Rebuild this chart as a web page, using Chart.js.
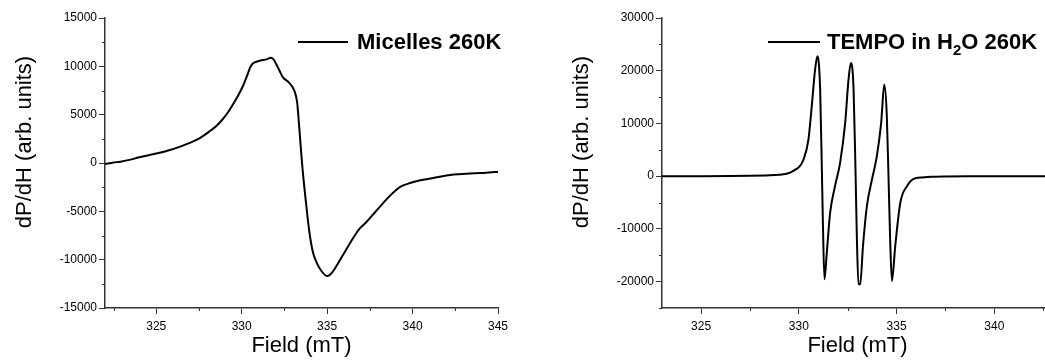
<!DOCTYPE html>
<html lang="en">
<head>
    <meta charset="UTF-8">
    <title>EPR spectra - Micelles and TEMPO</title>
    <script src="https://cdn.jsdelivr.net/npm/chart.js"></script>
    <style>
        html, body { margin: 0; padding: 0; background: #fff; overflow: hidden; }
        body { width: 1045px; height: 364px; position: relative; font-family: "Liberation Sans", Arial, sans-serif; }
        canvas { position: absolute; top: 0; }
        #micellesChart { left: 0; }
        #tempoChart { left: 525px; }
        .legend { position: absolute; top: 29px; height: 26px; font-weight: bold; font-size: 22px; line-height: 26px; color: #000; white-space: nowrap; }
        .legend .swatch { position: absolute; top: 12px; height: 2px; background: #000; }
        .legend sub { font-size: 15px; vertical-align: -6px; line-height: 0; }
    </style>
</head>
<body>
    <canvas id="micellesChart" width="522" height="364"></canvas>
    <canvas id="tempoChart" width="538" height="364"></canvas>

    <div class="legend" style="left:298px">
        <span class="swatch" style="left:0;width:50px"></span>
        <span style="margin-left:59px">Micelles 260K</span>
    </div>
    <div class="legend" style="left:768px">
        <span class="swatch" style="left:0;width:52px"></span>
        <span style="margin-left:59px">TEMPO in H<sub>2</sub>O 260K</span>
    </div>

    <script>
        // Micelles 260K spectrum (field in mT, dP/dH in arb. units)
        const micellesField = [322.0, 322.5, 322.9, 323.5, 324.0, 324.6, 325.2, 325.8, 326.4, 327.0,
            327.6, 328.1, 328.5, 328.9, 329.2, 329.5, 329.8, 330.1, 330.35, 330.5,
            330.65, 331.0, 331.5, 331.7, 331.85, 332.0, 332.2, 332.4, 332.8, 333.1, 333.25, 333.35,
            333.45, 333.55, 333.75, 333.95, 334.15, 334.4, 334.7, 335.0, 335.2, 335.4,
            335.7, 336.0, 336.3, 336.6, 336.9, 337.3, 337.7, 338.2, 338.7, 339.3,
            339.9, 340.4, 340.9, 341.5, 342.2, 342.9, 343.6, 344.3, 345.0];
        const micellesSignal = [-100, 50, 140, 350, 590, 820, 1070, 1350, 1690, 2100,
            2630, 3250, 3800, 4550, 5250, 6100, 7000, 8070, 9200, 9900,
            10300, 10550, 10750, 10900, 10750, 10300, 9600, 8900, 8250, 7400, 6200, 4100,
            1800, -400, -3900, -7000, -9100, -10350, -11250, -11700, -11500, -11070,
            -10200, -9300, -8400, -7550, -6800, -6100, -5300, -4300, -3350, -2450,
            -2050, -1800, -1650, -1450, -1240, -1150, -1070, -1000, -900];

        // TEMPO in H2O 260K spectrum
        const tempoField = [323.0, 325.0, 326.5, 327.5, 328.3, 329.0, 329.5, 329.8, 330.0, 330.24,
            330.49, 330.66, 330.83, 330.95, 331.09, 331.18, 331.23, 331.31, 331.43, 331.6,
            331.85, 332.11, 332.37, 332.54, 332.66, 332.8, 332.9, 332.97, 333.05, 333.14,
            333.28, 333.48, 333.74, 333.99, 334.21, 334.37, 334.5, 334.59, 334.67, 334.76,
            334.93, 335.19, 335.53, 335.87, 336.3, 336.8, 337.5, 339.0, 341.0, 343.0];
        const tempoSignal = [0, 0, 30, 80, 150, 250, 600, 1200, 1700, 3160,
            6950, 13260, 20200, 22730, 16400, 640, -8830, -19560, -14500, -6930,
            -1890, 2540, 10110, 18300, 21480, 16400, 640, -12000, -20500, -20500,
            -13260, -5680, -630, 3790, 10110, 17370, 11360, -630, -12000, -19880,
            -13260, -5040, -1890, -500, -250, -120, -60, -20, 0, 0];

        const fieldTicks = { major: 5, minor: 2.5 };
        const micellesTicks = { major: 5000, minor: 2500 };
        const tempoTicks = { major: 10000, minor: 5000 };

        const axisColor = '#333';
        Chart.defaults.font.family = '"Liberation Sans", Arial, sans-serif';
        Chart.defaults.color = '#000';

        function isMajor(value, step) {
            return Math.abs(value / step - Math.round(value / step)) < 1e-6;
        }

        // ticks every minor step, labels only on major ones
        function stepTicks(step) {
            return function(scale) {
                const ticks = [];
                const start = Math.ceil(scale.min / step - 1e-9) * step;
                for (let v = start; v <= scale.max + 1e-9; v += step) {
                    ticks.push({ value: Math.round(v * 1000) / 1000 });
                }
                scale.ticks = ticks;
            };
        }

        // short ticks for minor values, drawn off the library's scales
        const minorTicks = {
            id: 'minorTicks',
            afterDraw(chart, args, opts) {
                const ctx = chart.ctx;
                ctx.save();
                ctx.strokeStyle = axisColor;
                ctx.lineWidth = 1;
                const xs = chart.scales.x, ys = chart.scales.y;
                xs.ticks.forEach(t => {
                    if (isMajor(t.value, opts.x)) return;
                    const px = Math.round(xs.getPixelForValue(t.value)) + 0.5;
                    ctx.beginPath();
                    ctx.moveTo(px, xs.top);
                    ctx.lineTo(px, xs.top + 3);
                    ctx.stroke();
                });
                ys.ticks.forEach(t => {
                    if (isMajor(t.value, opts.y)) return;
                    const py = Math.round(ys.getPixelForValue(t.value)) + 0.5;
                    ctx.beginPath();
                    ctx.moveTo(ys.right, py);
                    ctx.lineTo(ys.right - 3, py);
                    ctx.stroke();
                });
                ctx.restore();
            }
        };

        function makeChart(canvasId, fields, signal, xRange, yRange, yStep, layout) {
            const ctx = document.getElementById(canvasId).getContext('2d');
            return new Chart(ctx, {
                type: 'line',
                data: {
                    datasets: [{
                        data: fields.map((f, i) => ({ x: f, y: signal[i] })),
                        borderColor: '#000',
                        borderWidth: 2,
                        pointRadius: 0,
                        cubicInterpolationMode: 'monotone',
                        fill: false
                    }]
                },
                options: {
                    responsive: false,
                    animation: false,
                    layout: { padding: { top: 18, right: layout.right, left: 0, bottom: 0 } },
                    plugins: {
                        legend: { display: false },
                        tooltip: { enabled: false },
                        minorTicks: { x: fieldTicks.major, y: yStep.major }
                    },
                    scales: {
                        x: {
                            type: 'linear',
                            min: xRange[0],
                            max: xRange[1],
                            afterBuildTicks: stepTicks(fieldTicks.minor),
                            afterFit: s => { s.height = 56; },
                            border: { color: axisColor, width: 1.5 },
                            grid: {
                                drawOnChartArea: false,
                                tickLength: 6,
                                tickColor: c => isMajor(c.tick.value, fieldTicks.major) ? axisColor : 'rgba(0,0,0,0)'
                            },
                            ticks: {
                                padding: 5,
                                maxRotation: 0,
                                autoSkip: false,
                                font: { size: 12 },
                                callback: v => isMajor(v, fieldTicks.major) ? String(v) : ''
                            },
                            title: {
                                display: true,
                                text: 'Field (mT)',
                                font: { size: 22 },
                                padding: { top: 0, bottom: 5 }
                            }
                        },
                        y: {
                            type: 'linear',
                            min: yRange[0],
                            max: yRange[1],
                            afterBuildTicks: stepTicks(yStep.minor),
                            afterFit: s => {
                                s.width = layout.yWidth;
                                if (!s._titleShifted) {
                                    const draw = s.drawTitle.bind(s);
                                    s.drawTitle = function() {
                                        this.ctx.save();
                                        this.ctx.translate(0, -21);
                                        draw();
                                        this.ctx.restore();
                                    };
                                    s._titleShifted = true;
                                }
                            },
                            border: { color: axisColor, width: 1.5 },
                            grid: {
                                drawOnChartArea: false,
                                tickLength: 6,
                                tickColor: c => isMajor(c.tick.value, yStep.major) ? axisColor : 'rgba(0,0,0,0)'
                            },
                            ticks: {
                                padding: 2,
                                autoSkip: false,
                                font: { size: 12 },
                                callback: v => isMajor(v, yStep.major) ? String(v) : ''
                            },
                            title: {
                                display: true,
                                text: 'dP/dH (arb. units)',
                                font: { size: 22 },
                                padding: { top: layout.titlePad, bottom: 0 }
                            }
                        }
                    }
                },
                plugins: [minorTicks]
            });
        }

        window.onload = function() {
            makeChart('micellesChart', micellesField, micellesSignal, [322, 345], [-15000, 15000],
                micellesTicks, { right: 24, yWidth: 105, titlePad: 12 });
            makeChart('tempoChart', tempoField, tempoSignal, [323, 343], [-25000, 30000],
                tempoTicks, { right: 10, yWidth: 137, titlePad: 44 });
        };
    </script>
</body>
</html>
